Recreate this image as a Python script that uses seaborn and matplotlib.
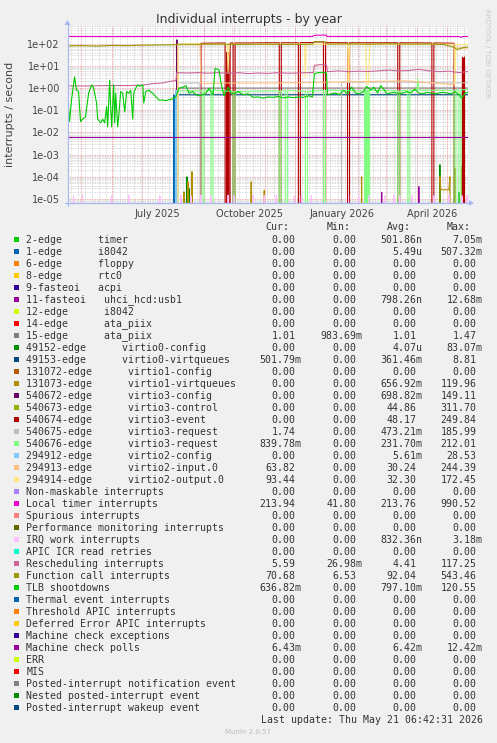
import numpy as np
import pandas as pd
import matplotlib
matplotlib.use("Agg")
import matplotlib.pyplot as plt
import matplotlib.dates as mdates
from matplotlib.ticker import FixedLocator, LogLocator, NullFormatter, FuncFormatter
from matplotlib.patches import Rectangle, Polygon
import seaborn as sns

# ---------------------------------------------------------------- data
START = "2025-04-18"          # left edge of the graph
SPAN_DAYS = 399               # right edge (last update)

title = "Individual interrupts - by year"
ylabel = "interrupts / second"
ytick_values = [1e2, 1e1, 1e0, 1e-1, 1e-2, 1e-3, 1e-4, 1e-5]
xtick_dates = ["2025-07-16", "2025-10-16", "2026-01-16", "2026-04-16"]
xtick_labels = ["July 2025", "October 2025", "January 2026", "April 2026"]

# series: day offset from START, value (interrupts / second)
loc_days = [0, 40, 80, 109, 150, 200, 244, 246, 257, 259, 300, 350, 390, 392, 394, 399]
loc_vals = [214, 212, 213, 213, 214, 212, 213, 240, 245, 214, 213, 213, 212, 195, 213, 213.94]

cal_days = [0, 15, 30, 45, 60, 75, 90, 105, 110, 130, 150, 170, 190, 210, 230, 244, 246, 257,
            259, 280, 300, 320, 340, 360, 375, 380, 385, 388, 392, 395, 399]
cal_vals = [80, 82, 78, 84, 82, 86, 88, 90, 95, 95, 96, 93, 95, 94, 93, 96, 122, 120,
            96, 98, 95, 99, 96, 97, 92, 80, 68, 55, 62, 68, 70.68]

res_days = [0, 20, 40, 60, 75, 85, 95, 102, 108, 109, 120, 130, 140, 150, 160, 170, 180, 190,
            200, 210, 220, 230, 240, 245, 246, 252, 258, 259, 270, 280, 290, 300, 310, 320,
            330, 340, 350, 360, 370, 380, 390, 399]
res_vals = [1.25, 1.25, 1.3, 1.3, 1.35, 1.6, 1.7, 2.0, 2.2, 5.0, 4.8, 5.0, 4.7, 5.0, 4.6, 5.0,
            4.5, 4.8, 4.6, 5.0, 4.7, 4.8, 5.0, 5.0, 10.5, 11.5, 11.0, 5.5, 6.0, 5.5, 5.8, 5.6,
            6.0, 6.5, 6.0, 6.2, 7.0, 6.0, 5.5, 5.8, 5.0, 5.59]

tlb_days = [0, 2, 4, 7, 9, 11, 13, 15, 18, 21, 24, 26, 29, 30, 33, 35, 37, 39, 40, 42,
            43, 44, 46, 47, 48, 50, 51, 53, 55, 57, 59, 61, 63, 65, 66, 68, 70, 72, 75, 76,
            78, 81, 85, 88, 91, 95, 98, 101, 105, 108, 111, 115, 118, 121, 125, 128, 131, 135,
            138, 141, 145, 147, 151, 153, 156, 160, 163, 166, 170, 175, 180, 185, 190, 195,
            200, 205, 210, 215, 220, 225, 230, 235, 240, 244, 246, 250, 255, 258, 259, 263,
            267, 271, 275, 279, 283, 287, 291, 295, 298, 302, 305, 309, 312, 315, 318, 322,
            326, 330, 334, 338, 342, 346, 350, 354, 358, 362, 366, 370, 374, 378, 382, 386,
            390, 393, 396, 399]
tlb_vals = [0.82, 0.031, 0.29, 3.2, 0.82, 0.7, 0.031, 0.04, 0.051, 0.58, 1.4, 1.0, 0.21, 0.04,
            0.027, 0.04, 0.027, 0.15, 0.018, 2.3, 0.15, 0.018, 1.4, 0.027, 0.58, 0.018, 0.051,
            0.7, 0.58, 0.086, 0.7, 0.58, 0.8, 0.04, 0.6, 1.0, 1.4, 1.2, 1.4, 0.21, 0.7, 0.8,
            0.58, 0.41, 0.29, 0.29, 0.27, 0.3, 0.33, 0.41, 0.98, 1.1, 1.3, 0.6, 0.7, 0.5, 0.45,
            0.5, 0.6, 0.98, 0.5, 7.8, 6.5, 1.6, 0.45, 1.1, 0.6, 0.55, 0.7, 0.5, 0.55, 0.38,
            0.4, 0.35, 0.4, 0.38, 0.42, 0.36, 0.4, 0.37, 0.4, 0.38, 0.45, 0.4, 4.5, 5.0, 5.2,
            4.8, 0.5, 0.55, 0.6, 0.5, 0.8, 0.55, 1.1, 0.6, 0.55, 0.7, 1.2, 0.8, 1.1, 0.6, 1.3,
            0.9, 0.55, 0.6, 0.65, 0.55, 0.6, 0.7, 0.6, 0.9, 0.6, 0.55, 0.65, 0.6, 0.55, 0.6,
            0.65, 0.6, 0.55, 0.7, 0.5, 0.35, 0.6, 0.64]

evt_days = [132, 133, 157, 158, 158.5, 159, 159.5, 160, 160.5, 161, 162, 165, 166, 167, 180,
            200, 211, 212, 213, 230, 231, 232, 245, 246, 254, 255, 256, 257, 279, 280, 281,
            329, 330, 331, 363, 364, 365, 385, 386, 393, 393.5, 394, 394.5, 395, 395.5, 396, 399]
evt_vals = [0, 105, 108, 0, 40, 0, 35, 0, 40, 0, 108, 108, 0, 108, 108, 110, 110, 0, 110, 110,
            0, 112, 112, 122, 122, 120, 0, 112, 110, 0, 110, 110, 0, 110, 108, 0, 108, 105, 0,
            0, 25, 0, 22, 0, 25, 0, 0]

out_days = [109, 110, 159, 160, 161, 236, 237, 238, 279, 280, 281, 297, 298, 300, 301, 385, 386, 387, 399]
out_vals = [0, 95, 95, 5, 95, 95, 3, 95, 95, 2, 95, 95, 1.5, 1.5, 95, 95, 1.5, 93, 93.44]

in_days = [109, 110, 132, 133, 160, 200, 245, 279, 280, 281, 300, 340, 370, 385, 386, 399]
in_vals = [0, 90, 90, 1.6, 1.7, 1.7, 1.8, 1.9, 60, 1.9, 2.0, 2.1, 1.6, 1.4, 65, 63.82]

req1_days = [109, 110, 132, 133, 272, 273, 320, 385, 399]
req1_vals = [0, 1.7, 1.7, 0, 0, 1.8, 1.9, 1.7, 1.74]

req2_days = [109, 110, 134, 135, 136, 143, 144, 145, 165, 166, 167, 211, 212, 213, 217, 218,
             219, 237, 238, 239, 255, 256, 257, 296, 297, 297.5, 298, 298.5, 299, 299.5, 300,
             301, 329, 330, 331, 339, 340, 341, 348, 349, 350, 385, 386, 387, 390, 391, 392, 399]
req2_vals = [0, 0.75, 0.75, 0, 0.8, 0.75, 0, 0.8, 0.7, 0, 0.7, 0.75, 0, 0.75, 0.8, 0, 0.8, 0.7,
             0, 0.7, 0.8, 0, 0.8, 0.75, 0, 0.8, 0, 0.8, 0, 0.8, 0, 0.8, 0.75, 0, 0.75, 0.8, 0,
             0.8, 0.8, 2.6, 0.8, 0.8, 0, 0.85, 0.8, 0, 0.85, 0.84]

vq0_days = [109, 110, 399]
vq0_vals = [0, 0.5, 0.5018]
ata15_days = [109, 110, 399]
ata15_vals = [0, 1.0, 1.01]
mcp_days = [0, 399]
mcp_vals = [6.43e-3, 6.43e-3]
v3cfg_days = [108, 109, 110]
v3cfg_vals = [0, 149.11, 0]
v2cfg_days = [107, 108, 108.5, 109, 109.5, 110, 111]
v2cfg_vals = [0, 0.8, 0, 0.8, 0, 0.8, 0]
i8042_days = [105, 106, 107]
i8042_vals = [0, 0.5, 0]
v1vq_days = [115, 116, 117, 119, 120, 121, 123, 124, 125, 182, 183, 184, 195, 196, 197, 292,
             293, 294, 298, 299, 300, 370, 371, 372, 380, 381, 382, 385, 386, 387, 392, 393, 394]
v1vq_vals = [0, 2.1e-5, 0, 0, 6e-5, 0, 0, 1.7e-4, 0, 0, 6e-5, 0, 0, 2.5e-5, 0, 0, 1e-4, 0, 0,
             3e-5, 0, 0, 1e-4, 2.6e-5, 2.6e-5, 1e-4, 0, 0, 2.5e-4, 0, 0, 3e-4, 0]

# short isolated spikes (peak day, peak value)
irq_peak_days = [6, 15, 44, 61, 92, 113, 123, 133, 143, 160, 166, 185, 196, 208, 226, 233, 243,
                 280, 290, 300, 316, 325, 331, 343, 365, 380, 393, 398]
irq_peak_vals = [1.4e-5, 1.5e-5, 1.4e-5, 1.5e-5, 1.4e-5, 1.5e-5, 1.4e-5, 1.5e-5, 1.4e-5,
                 1.5e-5, 1.4e-5, 1.5e-5, 1.4e-5, 1.5e-5, 1.4e-5, 1.5e-5, 1.4e-5, 1.5e-5,
                 1.4e-5, 1.5e-5, 1.4e-5, 1.5e-5, 1.4e-5, 1.5e-5, 1.4e-5, 1.5e-5, 1.4e-5, 1.5e-5]
v0cfg_peak_days = [119, 121, 371, 390]
v0cfg_peak_vals = [1e-4, 3e-5, 3.5e-4, 2e-5]
uhci_peak_days = [300, 313, 350]
uhci_peak_vals = [1.5e-5, 2e-5, 3.6e-5]

# legend table
legend_names = [
    "2-edge      timer", "1-edge      i8042", "6-edge      floppy", "8-edge      rtc0",
    "9-fasteoi   acpi", "11-fasteoi   uhci_hcd:usb1", "12-edge      i8042",
    "14-edge      ata_piix", "15-edge      ata_piix", "49152-edge      virtio0-config",
    "49153-edge      virtio0-virtqueues", "131072-edge      virtio1-config",
    "131073-edge      virtio1-virtqueues", "540672-edge      virtio3-config",
    "540673-edge      virtio3-control", "540674-edge      virtio3-event",
    "540675-edge      virtio3-request", "540676-edge      virtio3-request",
    "294912-edge      virtio2-config", "294913-edge      virtio2-input.0",
    "294914-edge      virtio2-output.0", "Non-maskable interrupts", "Local timer interrupts",
    "Spurious interrupts", "Performance monitoring interrupts", "IRQ work interrupts",
    "APIC ICR read retries", "Rescheduling interrupts", "Function call interrupts",
    "TLB shootdowns", "Thermal event interrupts", "Threshold APIC interrupts",
    "Deferred Error APIC interrupts", "Machine check exceptions", "Machine check polls",
    "ERR", "MIS", "Posted-interrupt notification event", "Nested posted-interrupt event",
    "Posted-interrupt wakeup event"]
Z = "0.00"
legend_cur = [Z, Z, Z, Z, Z, Z, Z, Z, "1.01", Z, "501.79m", Z, Z, Z, Z, Z, "1.74", "839.78m",
              Z, "63.82", "93.44", Z, "213.94", Z, Z, Z, Z, "5.59", "70.68", "636.82m",
              Z, Z, Z, Z, "6.43m", Z, Z, Z, Z, Z]
legend_min = [Z, Z, Z, Z, Z, Z, Z, Z, "983.69m", Z, Z, Z, Z, Z, Z, Z, Z, Z,
              Z, Z, Z, Z, "41.80", Z, Z, Z, Z, "26.98m", "6.53", Z,
              Z, Z, Z, Z, Z, Z, Z, Z, Z, Z]
legend_avg = ["501.86n", "5.49u", Z, Z, Z, "798.26n", Z, Z, "1.01", "4.07u", "361.46m", Z,
              "656.92m", "698.82m", "44.86", "48.17", "473.21m", "231.70m", "5.61m", "30.24",
              "32.30", Z, "213.76", Z, Z, "832.36n", Z, "4.41", "92.04", "797.10m",
              Z, Z, Z, Z, "6.42m", Z, Z, Z, Z, Z]
legend_max = ["7.05m", "507.32m", Z, Z, Z, "12.68m", Z, Z, "1.47", "83.07m", "8.81", Z,
              "119.96", "149.11", "311.70", "249.84", "185.99", "212.01", "28.53", "244.39",
              "172.45", Z, "990.52", Z, Z, "3.18m", Z, "117.25", "543.46", "120.55",
              Z, Z, Z, Z, "12.42m", Z, Z, Z, Z, Z]
last_update = "Last update: Thu May 21 06:42:31 2026"
version = "Munin 2.0.57"
watermark = "RRDTOOL / TOBI OETIKER"

# ---------------------------------------------------------------- style
palette = ["#00CC00", "#0066B3", "#FF8000", "#FFCC00", "#330099", "#990099", "#CCFF00",
           "#FF0000", "#808080", "#008F00", "#00487D", "#B35A00", "#B38F00", "#6B006B",
           "#8FB300", "#B30000", "#BEBEBE", "#80FF80", "#80C9FF", "#FFC080", "#FFE680",
           "#AA80FF", "#EE00CC", "#FF8080", "#666600", "#FFBFFF", "#00FFCC", "#CC6699",
           "#999900", "#00CC00", "#0066B3", "#FF8000", "#FFCC00", "#330099", "#990099",
           "#CCFF00", "#FF0000", "#808080", "#008F00", "#00487D"]

sns.set_style("white")
plt.rcParams["font.family"] = ["DejaVu Sans"]

W, H = 497, 743
BG = "#F0F0F0"
TXT = "#333333"
AXC = "#A8B8F0"

fig = plt.figure(figsize=(W / 100, H / 100), dpi=100, facecolor=BG)
PL, PR, PT, PB = 67.5, 468.0, 26.0, 203.0
ax = fig.add_axes([PL / W, 1 - PB / H, (PR - PL) / W, (PB - PT) / H])
ax.set_facecolor("white")

t0 = pd.Timestamp(START)


def to_dates(days):
    return t0 + pd.to_timedelta(np.asarray(days, dtype=float), unit="D")


def spikes(days, vals):
    d, v = [], []
    for a, b in zip(days, vals):
        d += [a - 1, a, a + 1]
        v += [0.0, b, 0.0]
    return d, v


series = {
    1: (i8042_days, i8042_vals),
    5: spikes(uhci_peak_days, uhci_peak_vals),
    8: (ata15_days, ata15_vals),
    9: spikes(v0cfg_peak_days, v0cfg_peak_vals),
    10: (vq0_days, vq0_vals),
    12: (v1vq_days, v1vq_vals),
    13: (v3cfg_days, v3cfg_vals),
    15: (evt_days, evt_vals),
    16: (req1_days, req1_vals),
    17: (req2_days, req2_vals),
    18: (v2cfg_days, v2cfg_vals),
    19: (in_days, in_vals),
    20: (out_days, out_vals),
    22: (loc_days, loc_vals),
    25: spikes(irq_peak_days, irq_peak_vals),
    27: (res_days, res_vals),
    28: (cal_days, cal_vals),
    29: (tlb_days, tlb_vals),
    34: (mcp_days, mcp_vals),
}

for idx in sorted(series):
    d, v = series[idx]
    sns.lineplot(x=to_dates(d), y=np.asarray(v, dtype=float), ax=ax, color=palette[idx],
                 linewidth=0.8, estimator=None, errorbar=None, zorder=3 + idx * 0.01)

ax.set_yscale("log")
ax.set_ylim(6.6e-6, 630)
ax.set_xlim(t0, t0 + pd.Timedelta(days=SPAN_DAYS))
ax.set_xlabel("")
ax.set_ylabel("")

# grid
ax.yaxis.set_major_locator(FixedLocator(ytick_values))
ax.yaxis.set_major_formatter(FuncFormatter(lambda v, p: f"{v:.0e}"))
ax.yaxis.set_minor_locator(LogLocator(base=10, subs=np.arange(2, 10), numticks=100))
ax.yaxis.set_minor_formatter(NullFormatter())
ax.grid(False)
ax.grid(which="major", axis="y", color="#EE9090", linestyle=(0, (1, 1)), linewidth=0.6, zorder=1)
ax.grid(which="minor", axis="y", color="#CFCFCF", linestyle=(0, (1, 1)), linewidth=0.6, zorder=1)
ax.set_axisbelow(True)

for wk in pd.date_range(t0, t0 + pd.Timedelta(days=SPAN_DAYS), freq="W-MON"):
    ax.axvline(wk, color="#CFCFCF", linestyle=(0, (1, 1)), linewidth=0.6, zorder=1)
for ms in pd.date_range(t0, t0 + pd.Timedelta(days=SPAN_DAYS), freq="MS"):
    ax.axvline(ms, color="#EE9090", linestyle=(0, (1, 1)), linewidth=0.6, zorder=1.1)

ax.xaxis.set_major_locator(FixedLocator(mdates.date2num(pd.to_datetime(xtick_dates))))
ax.set_xticklabels(xtick_labels)
ax.xaxis.set_minor_locator(FixedLocator([]))
ax.tick_params(axis="both", which="both", length=0, labelsize=7, labelcolor="#444444")
ax.tick_params(axis="y", pad=5.5)
ax.tick_params(axis="x", pad=4)
for s in ax.spines.values():
    s.set_visible(False)

# ---------------------------------------------------------------- overlay (pixel coords)
ov = fig.add_axes([0, 0, 1, 1], facecolor="none")
ov.set_xlim(0, W)
ov.set_ylim(H, 0)
ov.axis("off")

# axes lines with arrows
ov.plot([PL - 3, PR + 1], [PB, PB], color=AXC, lw=0.9)
ov.add_patch(Polygon([[PR + 1, PB - 3], [PR + 6, PB], [PR + 1, PB + 3]], closed=True, color=AXC, lw=0))
ov.plot([PL, PL], [PB + 3, PT - 1], color=AXC, lw=0.9)
ov.add_patch(Polygon([[PL - 3, PT - 1], [PL, PT - 6], [PL + 3, PT - 1]], closed=True, color=AXC, lw=0))

ov.text(W / 2, 19.5, title, ha="center", va="center", fontsize=9, color=TXT)
ov.text(10, 114.5, ylabel, ha="center", va="center", rotation=90, fontsize=8, color="#444444")
ov.text(487, 53, watermark, ha="center", va="center", rotation=270, fontsize=5, color="#C8C8C8")

MONO = "DejaVu Sans Mono"
FS = 7.1
CW = 5.97
cols = [301.7, 362.5, 422.7, 482.7]
for hdr, cx in zip(["Cur:", "Min:", "Avg:", "Max:"], cols):
    ov.text(cx - 2 * CW, 227.5, hdr, ha="right", va="center", family=MONO, fontsize=FS, color=TXT)

y0, dy = 239.7, 12.0
for i, name in enumerate(legend_names):
    y = y0 + i * dy
    ov.add_patch(Rectangle((14, y - 2.6), 5.2, 5.2, facecolor=palette[i], edgecolor="none"))
    ov.text(26.3, y, name, ha="left", va="center", family=MONO, fontsize=FS, color=TXT)
    for val, cx in zip([legend_cur[i], legend_min[i], legend_avg[i], legend_max[i]], cols):
        xr = cx if val[-1].isalpha() else cx - CW
        ov.text(xr, y, val, ha="right", va="center", family=MONO, fontsize=FS, color=TXT)

ov.text(cols[3], 719.7, last_update, ha="right", va="center", family=MONO, fontsize=FS, color=TXT)
ov.text(248, 731.7, version, ha="center", va="center", fontsize=5, color="#BBBBBB")

fig.savefig("out.png", dpi=100, facecolor=BG)
